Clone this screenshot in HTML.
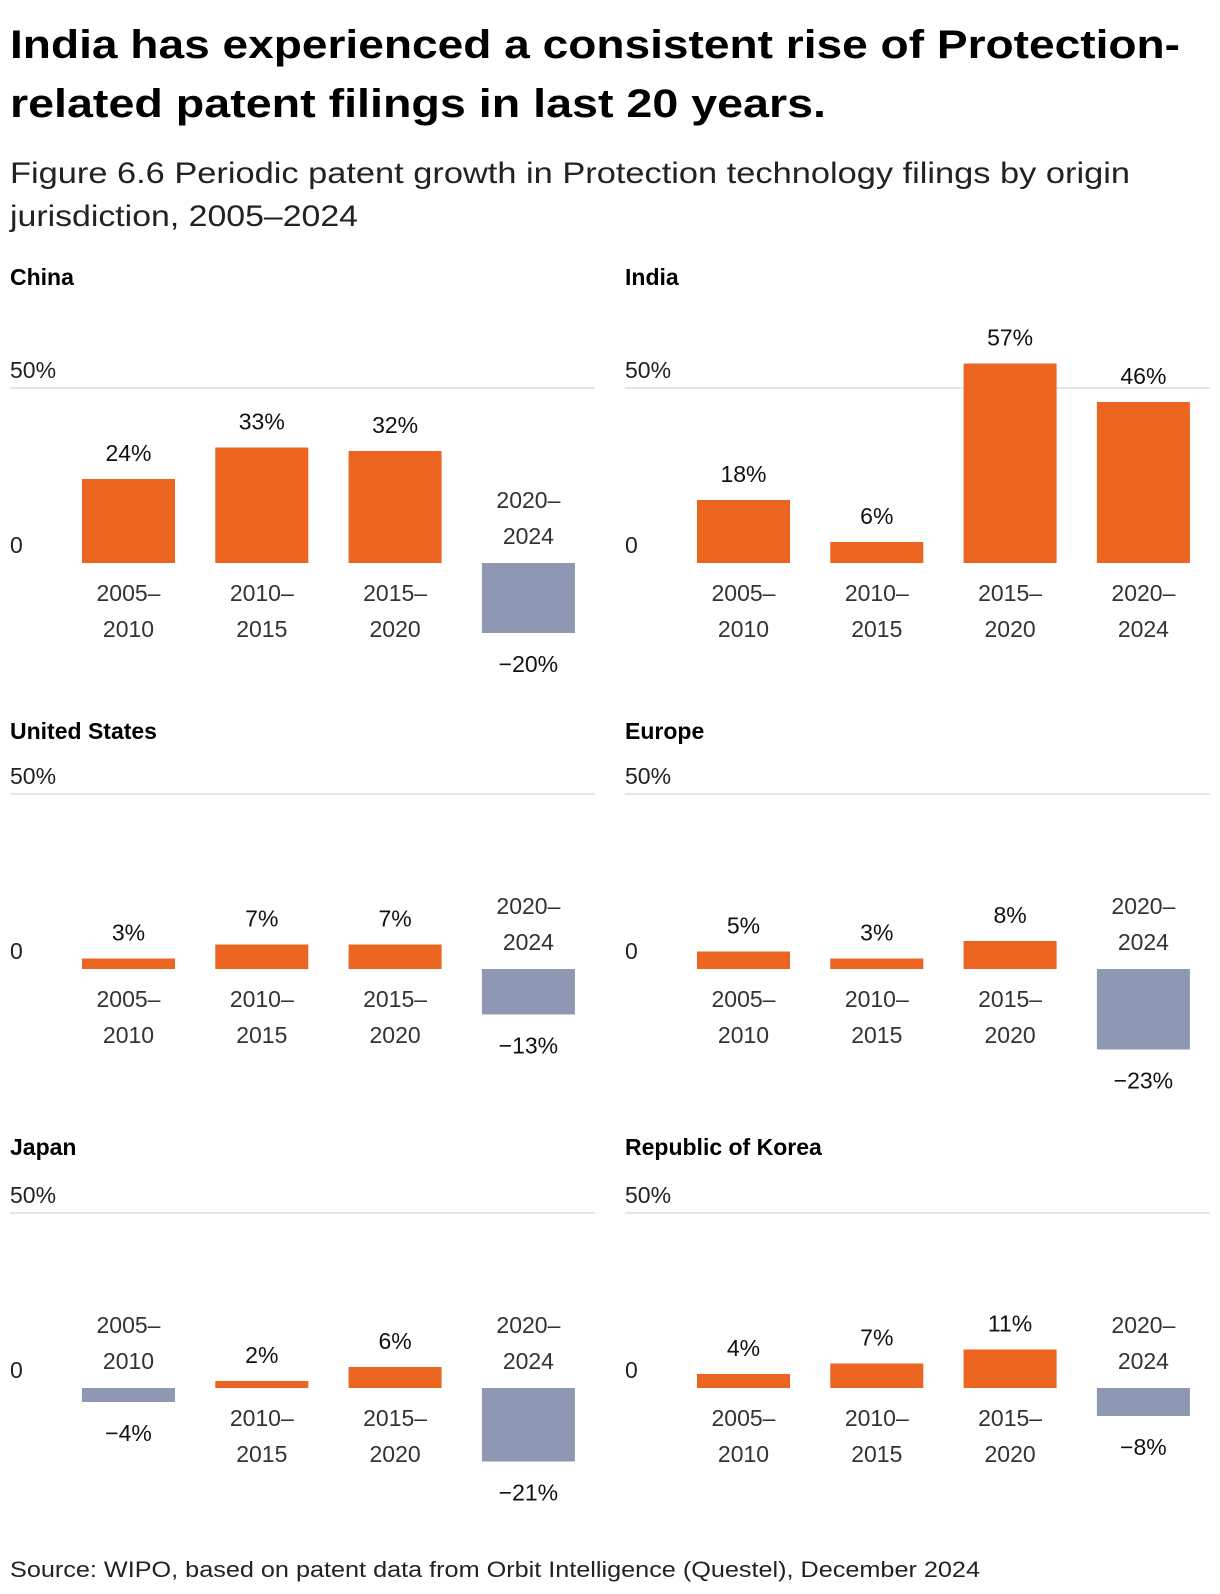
<!DOCTYPE html>
<html><head><meta charset="utf-8"><style>
html,body{margin:0;padding:0;background:#fff;}
svg{display:block;font-family:"Liberation Sans",sans-serif;}
</style></head><body>
<svg id="chart" width="1220" height="1594" viewBox="0 0 1220 1594" xmlns="http://www.w3.org/2000/svg">
<text x="10" y="58" font-size="40" font-weight="bold" fill="#000" textLength="1170" lengthAdjust="spacingAndGlyphs">India has experienced a consistent rise of Protection-</text>
<text x="10" y="117" font-size="40" font-weight="bold" fill="#000" textLength="816" lengthAdjust="spacingAndGlyphs">related patent filings in last 20 years.</text>
<text x="10" y="183" font-size="30" fill="#222" textLength="1120" lengthAdjust="spacingAndGlyphs">Figure 6.6 Periodic patent growth in Protection technology filings by origin</text>
<text x="10" y="226" font-size="30" fill="#222" textLength="348" lengthAdjust="spacingAndGlyphs">jurisdiction, 2005–2024</text>
<g id="panels"></g>
<text x="10" y="1577" font-size="22" fill="#222" textLength="970" lengthAdjust="spacingAndGlyphs">Source: WIPO, based on patent data from Orbit Intelligence (Questel), December 2024</text>
</svg>
<script>
const categories = [["2005–","2010"],["2010–","2015"],["2015–","2020"],["2020–","2024"]];
const regions = ["China","India","United States","Europe","Japan","Republic of Korea"];
const chinaValues = [24,33,32,-20];
const indiaValues = [18,6,57,46];
const usValues = [3,7,7,-13];
const europeValues = [5,3,8,-23];
const japanValues = [-4,2,6,-21];
const koreaValues = [4,7,11,-8];
const seriesValues = [chinaValues,indiaValues,usValues,europeValues,japanValues,koreaValues];
const tickLabels = ["50%","0"];
const tickValues = [50,0];

const NS = "http://www.w3.org/2000/svg";
const root = document.getElementById("panels");
const pxPerPct = 3.5;
const panelX = [10,625];
const zeroYs = [563,969,1388];
const titleYs = [285,739,1155];
function mk(tag, attrs, text){
  const e = document.createElementNS(NS, tag);
  for (const k in attrs) e.setAttribute(k, attrs[k]);
  if (text !== undefined) e.textContent = text;
  root.appendChild(e);
  return e;
}
function fmt(v){ return (v<0?"−"+Math.abs(v):v)+"%"; }

regions.forEach((name, p) => {
  const x0 = panelX[p%2];
  const zeroY = zeroYs[Math.floor(p/2)];
  const yScale = v => zeroY - v*pxPerPct;
  const xScale = i => x0 + 72 + i*133.3;
  const bw = 93;
  const t = mk("text",{x:x0,y:titleYs[Math.floor(p/2)],"font-size":23,"font-weight":"bold",fill:"#000"},name);
  
  
  const g = mk("line",{x1:x0,x2:x0+585,y1:yScale(tickValues[0]),y2:yScale(tickValues[0]),stroke:"#e6e6e6","stroke-width":2});
  
  
  tickValues.forEach((tv, k) => {
    const tl = mk("text",{x:x0,y:yScale(tv)-10,"font-size":23,fill:"#222"},tickLabels[k]);
    
    
  });
  seriesValues[p].forEach((v, i) => {
    const bx = xScale(i), cx = bx + bw/2;
    const top = Math.min(yScale(v), zeroY), h = Math.abs(yScale(v)-zeroY);
    const r = mk("rect",{x:bx,y:top,width:bw,height:h,fill:v>=0?"#EB6420":"#8E98B2"});
    
    
    const vy = v>=0 ? top-18 : top+h+39;
    const vl = mk("text",{x:cx,y:vy,"font-size":23,fill:"#111","text-anchor":"middle"},fmt(v));
    
    
    const c = categories[i];
    const y1 = v>=0 ? zeroY+38 : zeroY-55;
    const c1 = mk("text",{x:cx,y:y1,"font-size":23,fill:"#333","text-anchor":"middle"},c[0]);
    
    
    const c2 = mk("text",{x:cx,y:y1+36,"font-size":23,fill:"#333","text-anchor":"middle"},c[1]);
    
    
  });
});
</script>
</body></html>
